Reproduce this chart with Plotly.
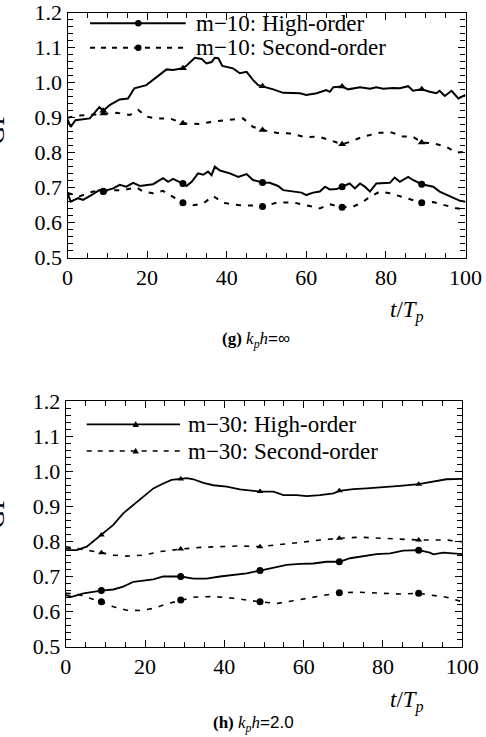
import plotly.graph_objects as go

# ---------------- data ----------------
MARK_T = [9, 29, 49, 69, 89]

# (g) kph = inf, m=10
g_ho_up_t = [0, 0.8, 2, 5.6, 8, 9, 10.6, 13.1, 15.2, 16.8, 19.8, 22.4, 24.9, 26.5, 29, 30, 32, 33.7, 34.9, 36.2, 37, 37.9, 38.9, 41.6, 43.3, 45, 46.6, 47.9, 49, 51.7, 54.2, 58.4, 60, 62.6, 65, 65.9, 66.8, 69, 70.5, 73.5, 76, 77.6, 79.3, 81.8, 83.5, 85.6, 86.8, 89, 91, 92.7, 93.5, 94.8, 96.5, 98.2, 100]
g_ho_up_v = [0.895, 0.874, 0.893, 0.898, 0.93, 0.92, 0.936, 0.952, 0.955, 0.984, 0.993, 1.017, 1.038, 1.036, 1.041, 1.05, 1.071, 1.068, 1.055, 1.059, 1.071, 1.07, 1.048, 1.041, 1.027, 1.031, 1.008, 0.993, 0.990, 0.981, 0.971, 0.970, 0.965, 0.970, 0.979, 0.974, 0.987, 0.989, 0.981, 0.987, 0.983, 0.987, 0.983, 0.985, 0.984, 0.990, 0.977, 0.981, 0.974, 0.970, 0.977, 0.962, 0.977, 0.955, 0.965]

g_so_up_t = [0, 3, 5.6, 9, 12.3, 15.7, 17.8, 19.8, 22.4, 25.7, 29, 33.2, 36.6, 40, 44.1, 46.6, 49, 52.5, 55.9, 60, 63, 65.9, 69, 70.9, 74.3, 78.5, 81.4, 84.3, 86.8, 89, 91.9, 95.2, 97.7, 100]
g_so_up_v = [0.900, 0.906, 0.908, 0.912, 0.914, 0.908, 0.922, 0.903, 0.898, 0.898, 0.884, 0.882, 0.889, 0.893, 0.898, 0.874, 0.865, 0.857, 0.855, 0.844, 0.846, 0.836, 0.824, 0.831, 0.846, 0.857, 0.858, 0.846, 0.846, 0.829, 0.827, 0.817, 0.800, 0.803]

g_ho_lo_t = [0, 0.8, 2.7, 3.9, 6, 8, 9, 11.5, 13.1, 14.8, 16.5, 18.2, 21.5, 24, 25.3, 26.5, 29, 29.9, 31.2, 32.8, 34.1, 35.3, 36.2, 37, 38.3, 40.8, 42.9, 45, 46.6, 49, 50.8, 52.9, 54.2, 56.7, 58.8, 60, 61.7, 63.4, 64.7, 65.9, 67.6, 69, 70.9, 72.2, 73.5, 74.7, 76, 77.6, 79.3, 81, 82.2, 83.5, 85.6, 86.8, 89, 91.9, 93.5, 96, 98.5, 100]
g_ho_lo_v = [0.685, 0.660, 0.670, 0.665, 0.679, 0.693, 0.690, 0.698, 0.708, 0.703, 0.714, 0.705, 0.710, 0.727, 0.717, 0.725, 0.712, 0.705, 0.717, 0.741, 0.737, 0.746, 0.736, 0.760, 0.749, 0.741, 0.731, 0.739, 0.722, 0.715, 0.714, 0.705, 0.693, 0.689, 0.686, 0.679, 0.686, 0.689, 0.703, 0.695, 0.696, 0.703, 0.712, 0.698, 0.712, 0.703, 0.689, 0.712, 0.714, 0.714, 0.729, 0.717, 0.731, 0.722, 0.710, 0.703, 0.689, 0.676, 0.663, 0.660]

g_so_lo_t = [0, 3.1, 6.4, 9, 11.5, 14, 17.3, 19, 21.5, 24, 26.5, 29, 31.6, 34.1, 36.6, 39.1, 43.3, 46.6, 49, 52.5, 56.7, 60.9, 63.4, 65.9, 69, 71.8, 74.3, 76, 78.5, 81, 83.5, 86, 89, 91.9, 95.2, 97.7, 100]
g_so_lo_v = [0.685, 0.676, 0.689, 0.689, 0.693, 0.693, 0.701, 0.689, 0.684, 0.691, 0.674, 0.657, 0.650, 0.655, 0.676, 0.657, 0.650, 0.649, 0.646, 0.657, 0.658, 0.648, 0.641, 0.653, 0.644, 0.646, 0.660, 0.674, 0.689, 0.684, 0.676, 0.667, 0.657, 0.659, 0.648, 0.641, 0.638]

# (h) kph = 2.0, m=30
h_ho_up_t = [0, 2.8, 5.3, 9, 12, 14.5, 17.1, 19.6, 22.1, 24.6, 26.7, 29, 30.5, 32.2, 34.7, 37.2, 40.6, 43.9, 49, 52.4, 54.9, 58.2, 60.8, 64.1, 67.5, 69, 72.5, 75.9, 80.1, 84.3, 89, 92.7, 96, 100]
h_ho_up_v = [0.775, 0.775, 0.785, 0.818, 0.847, 0.880, 0.904, 0.927, 0.951, 0.965, 0.975, 0.978, 0.980, 0.977, 0.967, 0.960, 0.956, 0.948, 0.942, 0.942, 0.932, 0.932, 0.929, 0.932, 0.937, 0.944, 0.949, 0.951, 0.954, 0.958, 0.963, 0.970, 0.977, 0.978]

h_so_up_t = [0, 2.8, 5.3, 9, 12, 15.4, 19.6, 23.8, 29, 33.9, 38.9, 43.9, 49, 54, 59.1, 64.1, 69, 74.2, 79.2, 84.3, 89, 92.7, 96, 100]
h_so_up_v = [0.785, 0.780, 0.775, 0.768, 0.761, 0.758, 0.761, 0.771, 0.778, 0.783, 0.785, 0.787, 0.785, 0.790, 0.797, 0.804, 0.809, 0.812, 0.809, 0.806, 0.804, 0.804, 0.804, 0.799]

h_ho_lo_t = [0, 1.5, 4.5, 9, 12, 14.5, 17.1, 19.6, 22.1, 24.6, 29, 32.2, 35.5, 38.9, 42.3, 45.6, 49, 52.4, 55.7, 59.1, 62.4, 65.8, 69, 71.7, 75, 78.4, 81.8, 85.1, 89, 91.8, 92.7, 95.2, 100]
h_ho_lo_v = [0.647, 0.642, 0.652, 0.660, 0.663, 0.671, 0.685, 0.688, 0.692, 0.700, 0.700, 0.694, 0.694, 0.700, 0.704, 0.709, 0.717, 0.726, 0.733, 0.736, 0.737, 0.742, 0.742, 0.752, 0.758, 0.764, 0.766, 0.774, 0.775, 0.768, 0.763, 0.768, 0.764]

h_so_lo_t = [0, 2.8, 6.1, 9, 12, 15.4, 18.7, 22.1, 25.5, 29, 32.2, 37.2, 42.3, 49, 53.2, 57.4, 62.4, 65.8, 69, 74.2, 79.2, 84.3, 89, 92.7, 96, 100]
h_so_lo_v = [0.652, 0.650, 0.638, 0.628, 0.614, 0.604, 0.603, 0.609, 0.622, 0.633, 0.641, 0.643, 0.638, 0.628, 0.623, 0.631, 0.641, 0.647, 0.654, 0.655, 0.652, 0.650, 0.652, 0.647, 0.641, 0.628]

legend_g = ["m\u221210: High-order", "m\u221210: Second-order"]
legend_h = ["m\u221230: High-order", "m\u221230: Second-order"]
X_TICKS = [0, 20, 40, 60, 80, 100]
Y_TICKS = [0.5, 0.6, 0.7, 0.8, 0.9, 1.0, 1.1, 1.2]

# ---------------- figure ----------------
W, H = 486, 737
SERIF = "Liberation Serif"
SANS = "Liberation Sans"


def msizes(ts, size):
    return [size if t in MARK_T else 0 for t in ts]


fig = go.Figure()


def add(ts, vs, dash, width, symbol, size, xa, ya):
    fig.add_trace(go.Scatter(
        x=ts, y=vs, mode="lines+markers", xaxis=xa, yaxis=ya,
        line=dict(color="black", width=width, dash=dash),
        marker=dict(color="black", symbol=symbol, size=msizes(ts, size),
                    opacity=1, line=dict(width=0)),
        showlegend=False, hoverinfo="skip"))


add(g_ho_up_t, g_ho_up_v, "solid", 2.0, "triangle-up", 7, "x", "y")
add(g_so_up_t, g_so_up_v, "5px,7px", 2.0, "triangle-up", 7, "x", "y")
add(g_ho_lo_t, g_ho_lo_v, "solid", 2.0, "circle", 7, "x", "y")
add(g_so_lo_t, g_so_lo_v, "5px,7px", 2.0, "circle", 7, "x", "y")

add(h_ho_up_t, h_ho_up_v, "solid", 1.8, "triangle-up", 6, "x2", "y2")
add(h_so_up_t, h_so_up_v, "5px,7px", 1.6, "triangle-up", 6, "x2", "y2")
add(h_ho_lo_t, h_ho_lo_v, "solid", 1.8, "circle", 7, "x2", "y2")
add(h_so_lo_t, h_so_lo_v, "5px,7px", 1.6, "circle", 7, "x2", "y2")


def px(x):
    return x / W


def py(y):
    return 1 - y / H


axis_common = dict(
    showline=True, linecolor="black", linewidth=1.2, mirror="ticks",
    ticks="inside", ticklen=7, tickwidth=1.2, tickcolor="black",
    showgrid=False, zeroline=False, automargin=False,
    tickfont=dict(family=SERIF, size=22, color="black"),
)
xcommon = dict(axis_common, range=[0, 100], tickvals=X_TICKS,
               minor=dict(dtick=5, tick0=0, ticks="inside", ticklen=5, tickwidth=1.2, tickcolor="black", showgrid=False))
ycommon = dict(axis_common, range=[0.5, 1.2], tickvals=Y_TICKS, tickformat=".1f",
               minor=dict(dtick=0.02, tick0=0.5, ticks="inside", ticklen=5, tickwidth=1.2, tickcolor="black", showgrid=False))

fig.update_layout(
    template="none",
    width=W, height=H,
    margin=dict(l=0, r=0, t=0, b=0, autoexpand=False),
    paper_bgcolor="white", plot_bgcolor="white",
    showlegend=False,
    xaxis=dict(xcommon, domain=[px(67.5), px(465.5)], anchor="y"),
    yaxis=dict(ycommon, domain=[py(257.7), py(12.7)], anchor="x"),
    xaxis2=dict(xcommon, domain=[px(65.7), px(462.3)], anchor="y2"),
    yaxis2=dict(ycommon, domain=[py(646.7), py(401)], anchor="x2"),
)

shapes = []
annotations = []


def legend(x0, x1, xm, ys, labels, symbol, xt, widths):
    for i, (yy, lab) in enumerate(zip(ys, labels)):
        shapes.append(dict(type="line", xref="paper", yref="paper",
                           x0=px(x0), x1=px(x1), y0=py(yy), y1=py(yy),
                           line=dict(color="black", width=widths[i], dash="solid" if i == 0 else "5px,6px")))
        if symbol == "circle":
            shapes.append(dict(type="circle", xref="paper", yref="paper",
                               xsizemode="pixel", ysizemode="pixel",
                               xanchor=px(xm), yanchor=py(yy),
                               x0=-3.2, x1=3.2, y0=-3.2, y1=3.2,
                               fillcolor="black", line=dict(width=0)))
        else:
            shapes.append(dict(type="path", xref="paper", yref="paper",
                               xsizemode="pixel", ysizemode="pixel",
                               xanchor=px(xm), yanchor=py(yy),
                               path="M-3.2,-2.6 L3.2,-2.6 L0,3.2 Z",
                               fillcolor="black", line=dict(width=0)))
        annotations.append(dict(xref="paper", yref="paper", x=px(xt), y=py(yy),
                                xanchor="left", yanchor="middle", showarrow=False,
                                text=lab, font=dict(family=SERIF, size=23, color="black")))


legend(90, 185.7, 138.3, [23.3, 47.7], legend_g, "circle", 194, [2.0, 2.0])
legend(86.7, 180, 135.7, [424.3, 451], legend_h, "triangle", 186, [1.8, 1.4])

# axis titles and captions
for (cx, cy) in [(407, 311), (407, 701)]:
    annotations.append(dict(xref="paper", yref="paper", x=px(cx), y=py(cy),
                            xanchor="center", yanchor="middle", showarrow=False,
                            text="<i>t</i>/<i>T</i><sub><i>p</i></sub>",
                            font=dict(family=SERIF, size=23, color="black")))
for cy in [128, 512]:
    annotations.append(dict(xref="paper", yref="paper", x=px(12), y=py(cy),
                            xanchor="right", yanchor="middle", showarrow=False,
                            text="GF", textangle=-90,
                            font=dict(family=SERIF, size=26, color="black")))

annotations.append(dict(xref="paper", yref="paper", x=px(256), y=py(340),
                        xanchor="center", yanchor="middle", showarrow=False,
                        text=("<b>(g)</b> <i>k</i><sub><i>p</i></sub><i>h</i>"
                              "<span style='font-family:Liberation Sans'>=\u221e</span>"),
                        font=dict(family=SERIF, size=17, color="black")))
annotations.append(dict(xref="paper", yref="paper", x=px(253), y=py(724),
                        xanchor="center", yanchor="middle", showarrow=False,
                        text=("<b>(h)</b> <i>k</i><sub><i>p</i></sub><i>h</i>"
                              "<span style='font-family:Liberation Sans'>=2.0</span>"),
                        font=dict(family=SERIF, size=17, color="black")))

fig.update_layout(shapes=shapes, annotations=annotations)
fig.write_html("out.html", config={"displayModeBar": False},
               post_script="document.body.style.margin='0';document.body.style.overflow='hidden';")
